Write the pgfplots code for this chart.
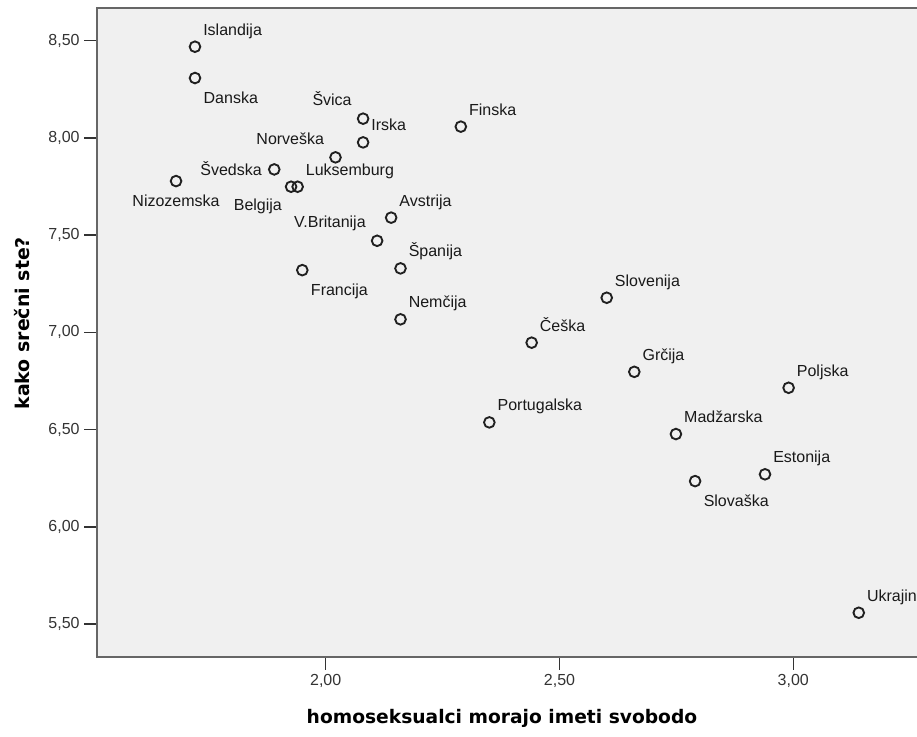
\documentclass[border=0pt]{standalone}
\usepackage{fontspec}
\setmainfont{Liberation Sans}
\newfontfamily\titlefont{DejaVu Sans}
\usepackage{pgfplots}
\usepackage{pgfplotstable}
\pgfplotsset{compat=1.18}
\definecolor{bgfill}{HTML}{F0F0F0}
\definecolor{axgray}{HTML}{666666}
\definecolor{tickgray}{HTML}{333333}
\definecolor{ticktext}{HTML}{333333}
\definecolor{markcol}{HTML}{202020}

% label above-right
\pgfplotstableread{
x y name
1.7205 8.469 Islandija
2.080 7.977 Irska
2.289 8.058 Finska
1.940 7.749 Luksemburg
2.140 7.590 Avstrija
2.160 7.329 Španija
2.160 7.067 Nemčija
2.601 7.178 Slovenija
2.4405 6.947 Češka
2.660 6.797 Grčija
2.990 6.715 Poljska
2.350 6.537 Portugalska
2.749 6.477 Madžarska
2.9395 6.270 Estonija
3.140 5.558 Ukrajina
}\tabAR
% label below-right
\pgfplotstableread{
x y name
1.7205 8.308 Danska
1.950 7.320 Francija
2.790 6.235 Slovaška
}\tabBR
% label above-left
\pgfplotstableread{
x y name
2.080 8.099 Švica
2.021 7.900 Norveška
2.110 7.471 V.Britanija
}\tabAL
% label below-left
\pgfplotstableread{
x y name
1.926 7.749 Belgija
}\tabBL
% label left
\pgfplotstableread{
x y name
1.890 7.838 Švedska
}\tabL
% label below
\pgfplotstableread{
x y name
1.680 7.778 Nizozemska
}\tabB

\pgfplotsset{
  ptstyle/.style n args={3}{
    only marks,
    mark=o,
    mark size=4pt,
    mark options={draw=markcol, line width=1.4pt},
    point meta=explicit symbolic,
    nodes near coords={\pgfplotspointmeta},
    every node near coord/.append style={anchor=#1, xshift=#2, yshift=#3, inner sep=0pt, font=\fontsize{12}{14}\selectfont, text=black!90},
  },
}

\begin{document}
\begin{tikzpicture}
\useasboundingbox (0,0) rectangle (687.75pt,552pt);
\clip (0,0) rectangle (687.75pt,552pt);
\begin{axis}[
  at={(72.98pt,59.48pt)}, anchor=south west,
  scale only axis,
  width=624.5pt, height=486.5pt,
  xmin=1.5116, xmax=3.2923,
  ymin=5.332, ymax=8.668,
  axis background/.style={fill=bgfill},
  axis line style={draw=axgray, line width=1.4pt},
  xtick={2,2.5,3},
  ytick={5.5,6,6.5,7,7.5,8,8.5},
  xtick pos=bottom, ytick pos=left,
  tick align=outside,
  major tick length=9.75pt,
  tick style={draw=tickgray, line width=1.1pt},
  /pgf/number format/.cd, fixed, fixed zerofill, precision=2, use comma, assume math mode=true,
  /pgfplots/.cd,
  ticklabel style={font=\fontsize{12}{14}\selectfont, text=ticktext},
  xlabel={homoseksualci morajo imeti svobodo},
  ylabel={kako srečni ste?},
  xlabel style={at={(axis description cs:0.486,-0.0948)}, anchor=center, font=\titlefont\bfseries\fontsize{14}{16}\selectfont},
  ylabel style={at={(axis description cs:-0.0898,0.514)}, anchor=center, font=\titlefont\bfseries\fontsize{14.2}{16}\selectfont},
]
\addplot[ptstyle={base west}{5.5pt}{8.6pt}] table[x=x, y=y, meta=name] {\tabAR};
\addplot[ptstyle={base west}{5.8pt}{-18.75pt}] table[x=x, y=y, meta=name] {\tabBR};
\addplot[ptstyle={base east}{-7.9pt}{9.75pt}] table[x=x, y=y, meta=name] {\tabAL};
\addplot[ptstyle={base east}{-6.2pt}{-18pt}] table[x=x, y=y, meta=name] {\tabBL};
\addplot[ptstyle={base east}{-8.7pt}{-4.3pt}] table[x=x, y=y, meta=name] {\tabL};
\addplot[ptstyle={base}{0pt}{-19.3pt}] table[x=x, y=y, meta=name] {\tabB};
\end{axis}
\end{tikzpicture}
\end{document}
